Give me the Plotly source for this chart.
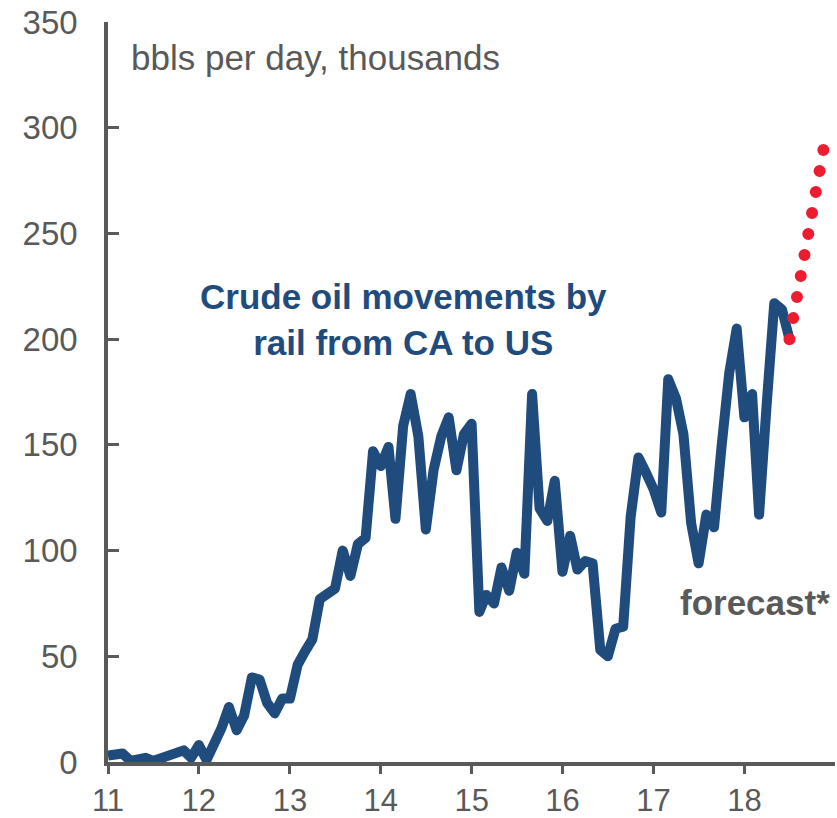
import pandas as pd
import plotly.graph_objects as go

# Monthly crude-by-rail volumes, Jan 2011 .. Jul 2018 (bbl/d, thousands)
values = [3, 3, 4, 0.5, 1, 2, 0.5, 1.5, 3, 4, 5.5, 2,
          8, 1, 8, 16, 26, 15, 22, 40, 39, 28, 23, 30,
          30, 46, 52, 58, 77, 79, 82, 100, 88, 103, 106, 147,
          140, 149, 115, 159, 174, 154, 110, 138, 154, 163, 138, 155,
          160, 71, 79, 75, 92, 81, 99, 89, 174, 120, 114, 133,
          90, 107, 91, 95, 94, 53, 50, 63, 64, 116, 144, 137,
          129, 118, 181, 172, 155, 113, 94, 117, 111, 149, 184, 205,
          163, 174, 117, 170, 217, 214, 200]
months = pd.date_range("2011-01-01", periods=len(values), freq="MS")

forecast_dates = ["2018-07-01", "2018-11-15"]
forecast_values = [200, 290]

year_ticks = ["2011-01-01", "2012-01-01", "2013-01-01", "2014-01-01",
              "2015-01-01", "2016-01-01", "2017-01-01", "2018-01-01"]
year_labels = ["11", "12", "13", "14", "15", "16", "17", "18"]
y_ticks = [0, 50, 100, 150, 200, 250, 300, 350]

BLUE = "#1f4b7d"
RED = "#ee1c2e"
GRAY = "#595959"
FONT = "Liberation Sans, Arial, sans-serif"

fig = go.Figure()
fig.add_trace(go.Scatter(x=months, y=values, mode="lines",
                         line=dict(color=BLUE, width=10), hoverinfo="skip"))
fig.add_trace(go.Scatter(x=forecast_dates, y=forecast_values, mode="lines",
                         line=dict(color=RED, width=12, dash="0px,21.35px"),
                         hoverinfo="skip"))

fig.update_layout(
    width=837, height=818,
    margin=dict(l=108, r=2, t=22, b=56, autoexpand=False),
    paper_bgcolor="white", plot_bgcolor="white",
    showlegend=False,
    font=dict(family=FONT, color=GRAY),
    xaxis=dict(type="date", range=["2011-01-01", "2018-12-31"],
               tickvals=year_ticks, ticktext=year_labels,
               showgrid=False, zeroline=False, automargin=False,
               showline=True, linecolor=GRAY, linewidth=3.5,
               ticks="outside", ticklen=8, tickwidth=3, tickcolor=GRAY,
               tickfont=dict(size=31, color=GRAY, family=FONT),
               ticklabelstandoff=0),
    yaxis=dict(range=[0, 350], tickvals=y_ticks,
               showgrid=False, zeroline=False, automargin=False,
               showline=True, linecolor=GRAY, linewidth=3.5,
               ticks="inside", ticklen=11, tickwidth=3, tickcolor=GRAY,
               tickfont=dict(size=33, color=GRAY, family=FONT),
               ticklabelstandoff=20),
    annotations=[
        dict(text="bbls per day, thousands", xref="paper", yref="paper",
             x=0.0282, y=0.9524, xanchor="left", yanchor="middle",
             showarrow=False, font=dict(size=35, color=GRAY, family=FONT)),
        dict(text="<b>Crude oil movements by<br>rail from CA to US</b>",
             xref="paper", yref="paper", x=0.4058, y=0.598,
             xanchor="center", yanchor="middle", align="center",
             showarrow=False, font=dict(size=35, color=BLUE, family=FONT)),
        dict(text="<b>forecast*</b>", xref="paper", yref="paper",
             x=0.8899, y=0.216, xanchor="center", yanchor="middle",
             showarrow=False, font=dict(size=35, color=GRAY, family=FONT)),
    ],
)

post = """
document.body.style.margin = '0';
document.body.style.padding = '0';
var gd = document.getElementById('{plot_id}');
var paths = gd.querySelectorAll('.scatterlayer .trace path.js-line');
paths.forEach(function(p){ p.style.strokeLinejoin = 'round'; });
if (paths.length > 1) { paths[1].style.strokeLinecap = 'round'; }
"""

fig.write_html("out.html", config={"displayModeBar": False}, post_script=post)
